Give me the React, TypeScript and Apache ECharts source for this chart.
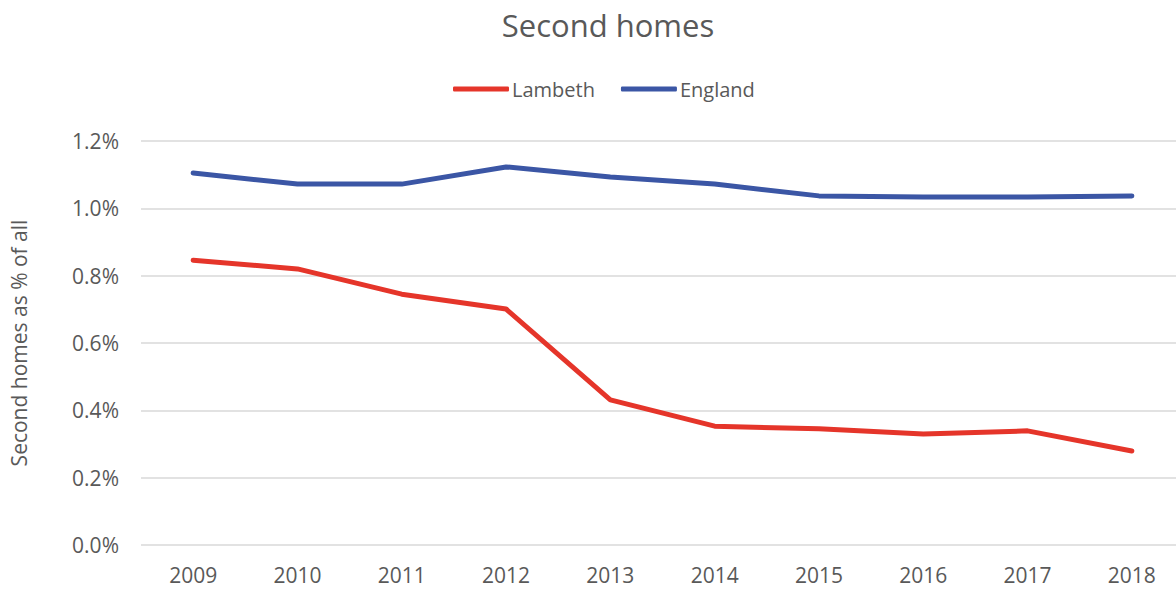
import React, { useEffect, useRef } from "react";
import * as echarts from "echarts";

const years = ["2009", "2010", "2011", "2012", "2013", "2014", "2015", "2016", "2017", "2018"];
const lambeth = [0.846, 0.82, 0.745, 0.701, 0.431, 0.353, 0.345, 0.33, 0.339, 0.279];
const england = [1.105, 1.072, 1.072, 1.123, 1.093, 1.072, 1.037, 1.034, 1.034, 1.037];

const FONT = "'Open Sans', 'Noto Sans', sans-serif";
const TXT = "#595959";

export default function App() {
  const ref = useRef<HTMLDivElement>(null);
  useEffect(() => {
    document.body.style.margin = "0";
    const chart = echarts.init(ref.current!, null, { renderer: "svg" });
    chart.setOption({
      animation: false,
      textStyle: { fontFamily: FONT },
      title: {
        text: "Second homes",
        left: 603,
        textAlign: "center",
        top: 4,
        textStyle: { fontFamily: FONT, fontSize: 31, fontWeight: "normal", color: TXT },
      },
      legend: {
        top: 74,
        left: 448,
        itemWidth: 56,
        itemHeight: 5,
        itemGap: 26,
        icon: "roundRect",
        textStyle: { fontFamily: FONT, fontSize: 20, color: TXT, padding: [0, 0, 0, -2] },
        data: ["Lambeth", "England"],
      },
      grid: { left: 140, right: 16, top: 141, bottom: 45, containLabel: false },
      xAxis: {
        type: "category",
        data: years,
        boundaryGap: true,
        axisLine: { show: false },
        axisTick: { show: false },
        axisLabel: { color: TXT, fontSize: 21, fontFamily: FONT, margin: 19 },
      },
      yAxis: {
        type: "value",
        min: 0,
        max: 1.2,
        interval: 0.2,
        name: "Second homes as % of all",
        nameLocation: "middle",
        nameGap: 112,
        nameTextStyle: { color: TXT, fontSize: 21, fontFamily: FONT },
        axisLine: { show: false },
        axisTick: { show: false },
        axisLabel: {
          color: TXT,
          fontSize: 21,
          fontFamily: FONT,
          margin: 22,
          formatter: (v: number) => v.toFixed(1) + "%",
        },
        splitLine: { lineStyle: { color: "#d9d9d9", width: 1.5 } },
      },
      series: [
        {
          name: "Lambeth",
          type: "line",
          data: lambeth,
          showSymbol: false,
          symbol: "none",
          lineStyle: { color: "#E5352A", width: 5, cap: "round", join: "round" },
          itemStyle: { color: "#E5352A" },
        },
        {
          name: "England",
          type: "line",
          data: england,
          showSymbol: false,
          symbol: "none",
          lineStyle: { color: "#3B56A5", width: 5, cap: "round", join: "round" },
          itemStyle: { color: "#3B56A5" },
        },
      ],
    });
    return () => chart.dispose();
  }, []);
  return (
    <div style={{ width: 1176, height: 590, overflow: "hidden", position: "relative" }}>
      <div ref={ref} style={{ width: 1200, height: 590 }} />
    </div>
  );
}
